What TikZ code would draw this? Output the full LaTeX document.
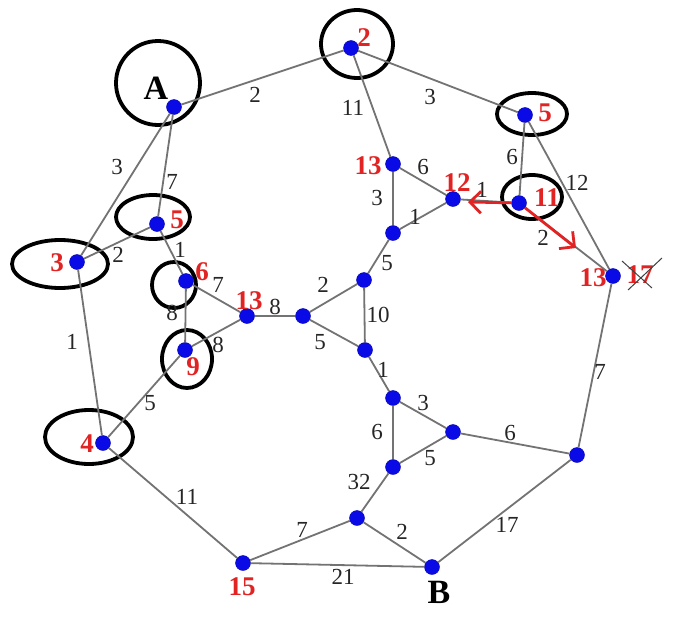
\documentclass[tikz,border=0pt]{standalone}
\usepackage{fontspec}
\setmainfont{Liberation Serif}
\usepackage{xcolor}
\definecolor{numred}{RGB}{225,35,35}
\definecolor{dotblue}{RGB}{10,10,230}
\definecolor{edgegray}{RGB}{115,115,115}
\usetikzlibrary{arrows.meta,shapes.geometric}

\begin{document}
\begin{tikzpicture}[x=1pt,y=-1pt,
    dot/.style={circle,fill=dotblue,draw=blue!70!black,inner sep=0pt,minimum size=15pt},
    edge/.style={draw=edgegray,line width=1.8pt},
    wt/.style={font=\fontsize{23}{23}\selectfont,text=black!85,inner sep=0pt},
    dist/.style={font=\fontsize{27}{27}\selectfont\bfseries,text=numred,inner sep=0pt},
    tag/.style={font=\fontsize{34}{34}\selectfont\bfseries,text=black,inner sep=0pt},
    ring/.style={ellipse,draw=black,line width=3.8pt,inner sep=0pt},
    hop/.style={draw=numred,line width=2.8pt,-{Straight Barb[length=11pt,width=22pt]}}]
  \useasboundingbox (0,0) rectangle (686,627);

  % marked vertices
  \node[ring,minimum width=84pt,minimum height=84pt] (rA) at (158,83) {};
  \node[ring,minimum width=72pt,minimum height=68pt] (r2) at (357,44) {};
  \node[ring,minimum width=70pt,minimum height=42pt] (r5) at (532,114) {};
  \node[ring,minimum width=60pt,minimum height=44pt] (r11) at (532,197) {};
  \node[ring,minimum width=74pt,minimum height=44pt] (rm5) at (153,217) {};
  \node[ring,minimum width=96pt,minimum height=48pt] (rm3) at (60,264) {};
  \node[ring,minimum width=44pt,minimum height=46pt] (rm6) at (174,285) {};
  \node[ring,minimum width=50pt,minimum height=58pt] (rm9) at (187,359) {};
  \node[ring,minimum width=88pt,minimum height=54pt] (r4) at (89,437) {};

  % vertices
  \node[dot] (A) at (174,107) {};
  \node[dot] (n2) at (351,48) {};
  \node[dot] (n5) at (525,115) {};
  \node[dot] (n13) at (393,164) {};
  \node[dot] (n12) at (453,199) {};
  \node[dot] (n11) at (519,203) {};
  \node[dot] (n17) at (613,276) {};
  \node[dot] (m5) at (157,224) {};
  \node[dot] (m3) at (77,262) {};
  \node[dot] (m6) at (186,281) {};
  \node[dot] (m13) at (247,316) {};
  \node[dot] (m9) at (185,350) {};
  \node[dot] (n4) at (103,443) {};
  \node[dot] (t1) at (393,233) {};
  \node[dot] (t2) at (364,280) {};
  \node[dot] (t3) at (303,316) {};
  \node[dot] (t4) at (365,350) {};
  \node[dot] (s1) at (393,398) {};
  \node[dot] (s2) at (453,432) {};
  \node[dot] (s3) at (393,467) {};
  \node[dot] (s4) at (357,518) {};
  \node[dot] (r) at (577,455) {};
  \node[dot] (B) at (432,567) {};
  \node[dot] (n15) at (243,563) {};

  % edges
  \foreach \a/\b in {A/n2,A/m3,A/m5,n2/n13,n2/n5,n5/n11,n5/n17,n11/n12,n11/n17,
      n13/n12,n13/t1,t1/n12,t1/t2,t2/t3,t2/t4,t3/t4,t3/m13,m13/m6,m13/m9,m6/m9,
      m6/m5,m5/m3,m3/n4,m9/n4,n4/n15,n15/s4,n15/B,s4/s3,s4/B,s3/s1,s3/s2,s1/s2,
      s1/t4,s2/r,r/B,r/n17}
    \draw[edge] (\a) -- (\b);

  % weights
  \foreach \x/\y/\t [count=\i] in {255/95/2,353/108/11,430/97/3,117/167/3,172/182/7,
      118/255/2,180/250/1,218/285/7,172/313/8,218/345/8,275/307/8,323/285/2,
      320/342/5,378/315/10,387/263/5,377/198/3,423/167/6,415/217/1,482/190/1,
      512/157/6,577/183/12,543/238/2,72/342/1,150/403/5,187/497/11,302/530/7,
      343/577/21,383/370/1,423/403/3,377/432/6,430/458/5,510/433/6,359/482/32,
      402/532/2,507/525/17,600/372/7}
    \node[wt] (w\i) at (\x,\y) {\t};

  % distances
  \foreach \x/\y/\t [count=\i] in {364/38/2,545/113/5,368/166/13,457/183/12,
      547/198/11,177/220/5,57/263/3,202/272/6,249/301/13,193/367/9,87/444/4,
      242/587/15,593/278/13,640/275/17}
    \node[dist] (d\i) at (\x,\y) {\t};

  \node[tag] (lA) at (156,88) {A};
  \node[tag] (lB) at (439,592) {B};

  % relaxation steps
  \coordinate (h12) at (468,202);
  \coordinate (h17) at (576,248);
  \draw[hop] (n11) -- (h12);
  \draw[hop] (n11) -- (h17);

  % crossed out old value
  \coordinate (x1) at (622,261);
  \coordinate (x2) at (652,288);
  \coordinate (x3) at (628,290);
  \coordinate (x4) at (662,258);
  \draw[black!75,line width=1pt] (x1) -- (x2);
  \draw[black!75,line width=1pt] (x3) -- (x4);
\end{tikzpicture}
\end{document}
